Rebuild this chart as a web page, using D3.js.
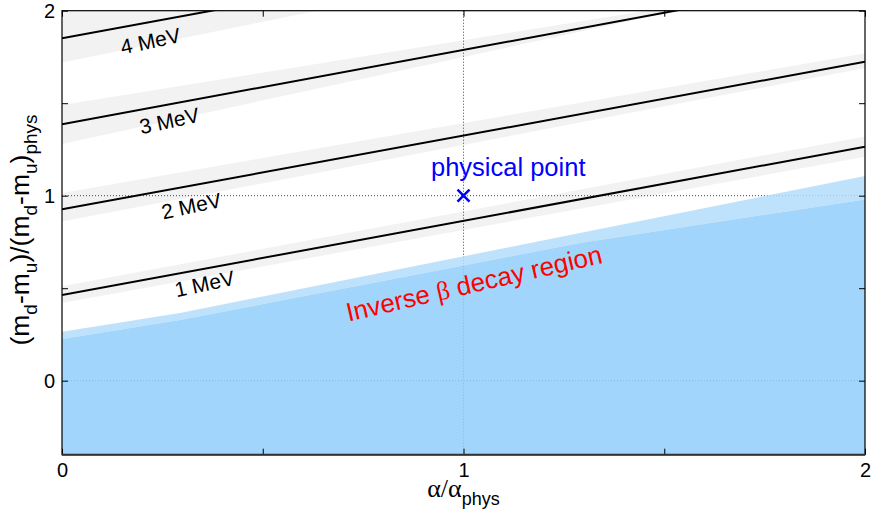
<!DOCTYPE html>
<html><head><meta charset="utf-8">
<script src="https://cdn.jsdelivr.net/npm/d3@7"></script>
<style>body{margin:0;background:#fff}svg{display:block}</style>
</head><body>
<svg id="c" width="872" height="523"></svg>
<script>
// ---- data ----
const energies = ["1 MeV", "2 MeV", "3 MeV", "4 MeV"];
const lineX = [0, 2];
const lineY = [[0.463, 1.265], [0.926, 1.724], [1.386, 2.19], [1.851, 2.65]];
const bandLo = [[0.42, 1.21], [0.86, 1.69], [1.28, 2.22], [1.72, 2.6]];
const bandHi = [[0.51, 1.32], [1.015, 1.77], [1.49, 2.19], [2.02, 2.8]];
const labelX = [0.359, 0.326, 0.271, 0.224];
const labelY = [0.485, 0.906, 1.366, 1.797];
const blueX = [0, 0.294, 1.29, 2];
const lightTop = [0.265, 0.366, 0.798, 1.107];
const darkTop = [0.225, 0.328, 0.744, 0.98];
const physPoint = [1, 1];
const xTicks = [0, 0.5, 1, 1.5, 2];
const yTicks = [0, 0.5, 1, 1.5, 2];
const xGrid = [1];
const yGrid = [0, 1];

// ---- layout ----
const svg = d3.select("#c");
const L = 62, R = 865, T = 10.7, B = 454.7;
const x = d3.scaleLinear().domain([0, 2]).range([L, R]);
const y = d3.scaleLinear().domain([-0.4, 2]).range([B, T]);

svg.append("clipPath").attr("id", "clip").append("rect")
  .attr("x", L).attr("y", T).attr("width", R - L).attr("height", B - T);
const plot = svg.append("g").attr("clip-path", "url(#clip)");

// gray bands
energies.forEach((e, i) => {
  const pts = lineX.map((xv, j) => ({x: xv, lo: bandLo[i][j], hi: bandHi[i][j]}));
  plot.append("path").datum(pts)
    .attr("d", d3.area().x(d => x(d.x)).y0(d => y(d.lo)).y1(d => y(d.hi)))
    .attr("fill", "#f2f2f2");
});

// grid
xGrid.forEach(v => plot.append("line").attr("x1", x(v)).attr("x2", x(v)).attr("y1", T).attr("y2", B)
  .attr("stroke", "#444").attr("stroke-width", 1).attr("stroke-dasharray", "1,2"));
yGrid.forEach(v => plot.append("line").attr("x1", L).attr("x2", R).attr("y1", y(v)).attr("y2", y(v))
  .attr("stroke", "#444").attr("stroke-width", 1).attr("stroke-dasharray", "1,2"));

// blue regions
const bluePts = blueX.map((xv, j) => ({x: xv, l: lightTop[j], d: darkTop[j]}));
plot.append("path").datum(bluePts)
  .attr("d", d3.area().x(d => x(d.x)).y0(d => y(d.d)).y1(d => y(d.l)))
  .attr("fill", "rgb(179,221,252)").attr("fill-opacity", 0.85);
plot.append("path").datum(bluePts)
  .attr("d", d3.area().x(d => x(d.x)).y0(y(-0.4)).y1(d => y(d.d)))
  .attr("fill", "rgb(144,206,250)").attr("fill-opacity", 0.85);

// energy lines
energies.forEach((e, i) => {
  const pts = lineX.map((xv, j) => [xv, lineY[i][j]]);
  plot.append("path").datum(pts)
    .attr("d", d3.line().x(d => x(d[0])).y(d => y(d[1])))
    .attr("fill", "none").attr("stroke", "#000").attr("stroke-width", 2);
});

// energy labels
energies.forEach((e, i) => {
  svg.append("text")
    .attr("transform", `translate(${x(labelX[i])},${y(labelY[i])}) rotate(-12)`)
    .attr("text-anchor", "middle")
    .attr("font-family", "Liberation Sans, Arial, sans-serif")
    .attr("font-size", 21).attr("fill", "#000").text(e);
});

// axes (inward ticks)
const fmt = d => (Number.isInteger(d) ? d : "");
const font = "Liberation Sans, Arial, sans-serif";
function style(g) {
  g.select(".domain").remove();
  g.selectAll(".tick line").attr("stroke", "#000");
  g.selectAll(".tick text").attr("font-family", font).attr("font-size", 20).attr("fill", "#000");
}
svg.append("g").attr("transform", `translate(0,${B})`)
  .call(d3.axisBottom(x).tickValues(xTicks).tickFormat(fmt).tickSizeInner(-6).tickSizeOuter(0).tickPadding(8)).call(style);
svg.append("g").attr("transform", `translate(0,${T})`)
  .call(d3.axisTop(x).tickValues(xTicks).tickFormat("").tickSizeInner(-6).tickSizeOuter(0)).call(style);
svg.append("g").attr("transform", `translate(${L},0)`)
  .call(d3.axisLeft(y).tickValues(yTicks).tickFormat(fmt).tickSizeInner(-6).tickSizeOuter(0).tickPadding(7)).call(style);
svg.append("g").attr("transform", `translate(${R},0)`)
  .call(d3.axisRight(y).tickValues(yTicks).tickFormat("").tickSizeInner(-6).tickSizeOuter(0)).call(style);

// frame
svg.append("rect").attr("x", L).attr("y", T).attr("width", R - L).attr("height", B - T)
  .attr("fill", "none").attr("stroke", "#000").attr("stroke-width", 1.2);
svg.append("line").attr("x1", L).attr("x2", R).attr("y1", B).attr("y2", B)
  .attr("stroke", "#333").attr("stroke-width", 2);

// physical point marker
const px = x(physPoint[0]), py = y(physPoint[1]), s = 6;
svg.append("path").attr("d", `M${px - s},${py - s}L${px + s},${py + s}M${px - s},${py + s}L${px + s},${py - s}`)
  .attr("stroke", "#0000ff").attr("stroke-width", 2.6).attr("fill", "none");
svg.append("text").attr("x", x(0.919)).attr("y", y(1.106))
  .attr("font-family", font).attr("font-size", 25.5).attr("fill", "#0000ff").text("physical point");

// inverse beta decay label
const inv = svg.append("text")
  .attr("transform", `translate(${x(1.031)},${y(0.479)}) rotate(-13)`)
  .attr("text-anchor", "middle").attr("font-family", font).attr("font-size", 26).attr("fill", "#ff0000");
inv.append("tspan").text("Inverse ");
inv.append("tspan").attr("font-family", "Liberation Serif, Times New Roman, serif").text("β");
inv.append("tspan").text(" decay region");

// x axis label
const xl = svg.append("text").attr("x", (L + R) / 2).attr("y", 497).attr("text-anchor", "middle")
  .attr("font-family", font).attr("font-size", 26).attr("fill", "#000");
xl.append("tspan").attr("font-family", "Liberation Serif, Times New Roman, serif").text("α/α");
xl.append("tspan").attr("font-size", 18).attr("dy", 8).text("phys");

// y axis label
const yl = svg.append("text").attr("transform", `translate(29,${230}) rotate(-90)`).attr("text-anchor", "middle")
  .attr("font-family", font).attr("font-size", 26.5).attr("fill", "#000");
const parts = [["(m", 0], ["d", 1], ["-m", 0], ["u", 1], [")/(m", 0], ["d", 1], ["-m", 0], ["u", 1], [")", 0], ["phys", 1]];
let cur = 0;
parts.forEach(([t, sub]) => {
  const dy = sub ? 8 - cur : 0 - cur;
  cur = sub ? 8 : 0;
  yl.append("tspan").attr("dy", dy).attr("font-size", sub ? 19 : 26.5).text(t);
});
</script>
</body></html>
